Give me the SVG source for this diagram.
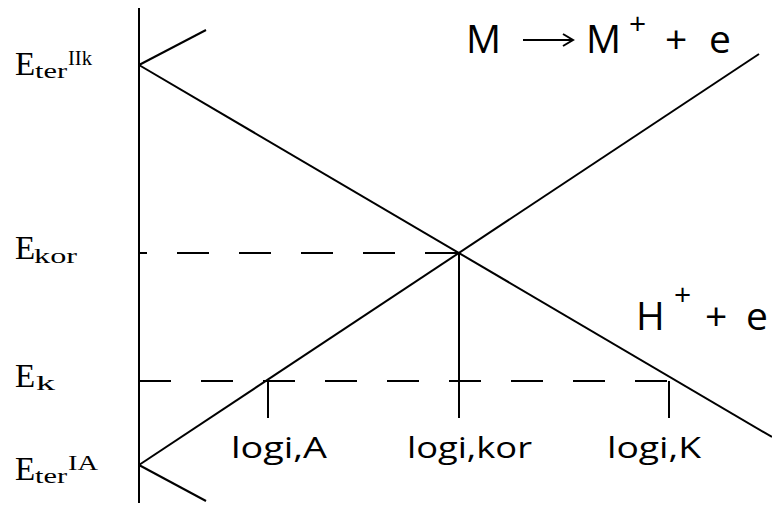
<svg xmlns="http://www.w3.org/2000/svg" width="772" height="507" viewBox="0 0 772 507">
<style>
.ln{stroke:#000;stroke-width:2;fill:none}
.ds{stroke:#000;stroke-width:2;fill:none;stroke-dasharray:32 30}
.lab{font-family:"Liberation Serif",serif;font-size:33px;fill:#000}
.sub{font-family:"Liberation Serif",serif;font-size:22px;fill:#000}
.sup{font-family:"Liberation Serif",serif;font-size:20px;fill:#000}
.eq{font-family:"Open Sans","Liberation Sans",sans-serif;font-size:39px;fill:#000}
.eqs{font-family:"Open Sans","Liberation Sans",sans-serif;font-size:30px;fill:#000}
.lg{font-family:"Open Sans","Liberation Sans",sans-serif;font-size:29px;fill:#000}
</style>
<rect width="772" height="507" fill="#fff"/>
<g id="connectors">
<line class="ln" x1="139" y1="8" x2="139" y2="503"/>
<line class="ln" x1="139" y1="65" x2="206" y2="30"/>
<line class="ln" x1="139" y1="65" x2="772" y2="437"/>
<line class="ln" x1="139" y1="465" x2="759" y2="54"/>
<line class="ln" x1="139" y1="465" x2="206" y2="501"/>
<line class="ds" x1="139" y1="253" x2="459" y2="253" stroke-dashoffset="24"/>
<line class="ds" x1="139" y1="381" x2="669" y2="381"/>
<line class="ln" x1="268" y1="381" x2="268" y2="418"/>
<line class="ln" x1="459" y1="253" x2="459" y2="418"/>
<line class="ln" x1="669" y1="381" x2="669" y2="418"/>
<line class="ln" x1="523" y1="40" x2="572" y2="40" stroke-width="2.5"/>
<path d="M563 34 L573 40 L563 46" class="ln" stroke-width="2.5"/>
</g>
<g id="label-eter-ik">
<text class="lab" x="15" y="75">E</text>
<text class="sub" x="35" y="78" textLength="32" lengthAdjust="spacingAndGlyphs">ter</text>
<text class="sup" x="68" y="65" textLength="24" lengthAdjust="spacingAndGlyphs">IIk</text>
</g>
<g id="label-ekor">
<text class="lab" x="15" y="259">E</text>
<text class="sub" x="34" y="263" textLength="43" lengthAdjust="spacingAndGlyphs">kor</text>
</g>
<g id="label-ek">
<text class="lab" x="15" y="387">E</text>
<text class="sub" x="36" y="390" textLength="19" lengthAdjust="spacingAndGlyphs">k</text>
</g>
<g id="label-eter-ia">
<text class="lab" x="15" y="480">E</text>
<text class="sub" x="35" y="483" textLength="32" lengthAdjust="spacingAndGlyphs">ter</text>
<text class="sup" x="68" y="470" textLength="30" lengthAdjust="spacingAndGlyphs">IA</text>
</g>
<g id="eq-metal">
<text class="eq" x="466" y="53">M</text>
<text class="eq" x="586" y="53">M</text>
<text class="eqs" x="629" y="34">+</text>
<text class="eq" x="665" y="53">+</text>
<text class="eq" x="709" y="53">e</text>
</g>
<g id="eq-hydrogen">
<text class="eq" x="636" y="330">H</text>
<text class="eqs" x="674" y="305">+</text>
<text class="eq" x="705" y="330">+</text>
<text class="eq" x="746" y="330">e</text>
</g>
<g id="logi-a"><text class="lg" x="231" y="458" textLength="96" lengthAdjust="spacingAndGlyphs">logi,A</text></g>
<g id="logi-kor"><text class="lg" x="407" y="458" textLength="125" lengthAdjust="spacingAndGlyphs">logi,kor</text></g>
<g id="logi-k"><text class="lg" x="607" y="458" textLength="94" lengthAdjust="spacingAndGlyphs">logi,K</text></g>
</svg>
